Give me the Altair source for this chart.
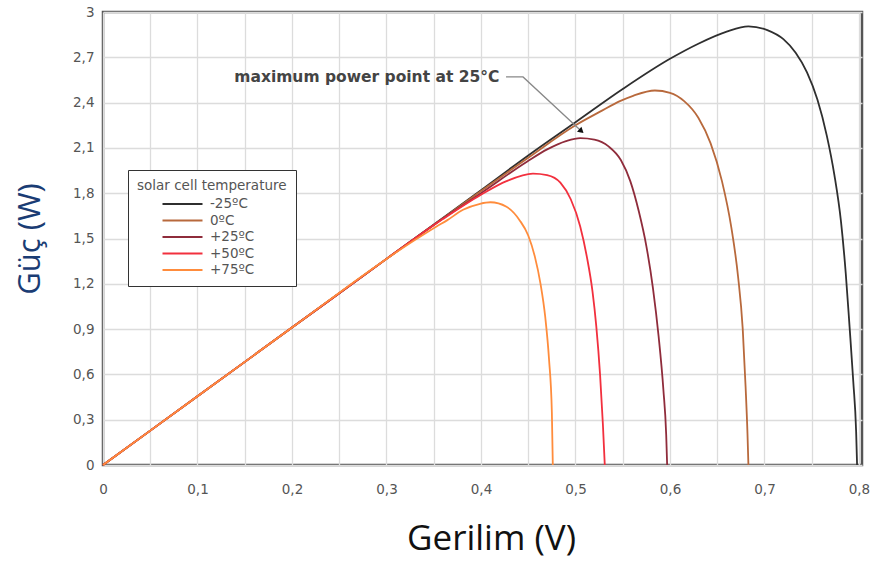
import altair as alt
import pandas as pd

# ---- data ----
series = ["-25ºC", "0ºC", "+25ºC", "+50ºC", "+75ºC"]
colors = ["#2f2f2f", "#b8693c", "#8f2c3b", "#f2303e", "#ff8c3c"]

v_m25 = [0, 0.1, 0.2, 0.3, 0.4, 0.45, 0.5, 0.55, 0.6, 0.63, 0.66, 0.683, 0.703, 0.72, 0.733, 0.745, 0.756, 0.766, 0.774, 0.781, 0.786, 0.790, 0.794, 0.797, 0.798]
p_m25 = [0, 0.455, 0.91, 1.365, 1.82, 2.05, 2.27, 2.49, 2.69, 2.79, 2.87, 2.905, 2.88, 2.82, 2.73, 2.60, 2.42, 2.18, 1.92, 1.61, 1.27, 0.92, 0.55, 0.22, 0]

v_0 = [0, 0.1, 0.2, 0.3, 0.4, 0.45, 0.5, 0.526, 0.547, 0.561, 0.584, 0.6, 0.615, 0.63, 0.643, 0.655, 0.665, 0.672, 0.677, 0.680, 0.682, 0.683]
p_0 = [0, 0.455, 0.91, 1.365, 1.815, 2.035, 2.25, 2.34, 2.41, 2.445, 2.48, 2.465, 2.41, 2.30, 2.13, 1.88, 1.57, 1.25, 0.90, 0.52, 0.21, 0]

v_25 = [0, 0.1, 0.2, 0.3, 0.35, 0.4, 0.449, 0.47, 0.49, 0.505, 0.52, 0.535, 0.548, 0.558, 0.567, 0.575, 0.582, 0.588, 0.593, 0.596, 0.597]
p_25 = [0, 0.455, 0.91, 1.365, 1.59, 1.80, 2.01, 2.09, 2.145, 2.165, 2.155, 2.11, 2.02, 1.88, 1.68, 1.45, 1.17, 0.85, 0.50, 0.20, 0]

v_50 = [0, 0.1, 0.2, 0.3, 0.33, 0.36, 0.4, 0.427, 0.455, 0.47, 0.484, 0.495, 0.505, 0.512, 0.518, 0.522, 0.526, 0.529, 0.531]
p_50 = [0, 0.455, 0.91, 1.365, 1.50, 1.63, 1.79, 1.88, 1.93, 1.92, 1.87, 1.76, 1.58, 1.38, 1.15, 0.92, 0.60, 0.27, 0]

v_75 = [0, 0.1, 0.2, 0.3, 0.33, 0.353, 0.364, 0.381, 0.399, 0.41, 0.427, 0.441, 0.45, 0.457, 0.463, 0.468, 0.472, 0.475, 0.476]
p_75 = [0, 0.455, 0.91, 1.365, 1.49, 1.58, 1.62, 1.69, 1.73, 1.74, 1.71, 1.62, 1.52, 1.38, 1.20, 0.98, 0.70, 0.35, 0]

x_ticks = [0, 0.1, 0.2, 0.3, 0.4, 0.5, 0.6, 0.7, 0.8]
x_grid = [round(i * 0.05, 2) for i in range(17)]
y_ticks = [round(i * 0.3, 1) for i in range(11)]

annot_text = "maximum power point at 25°C"
annot_pos = (0.4195, 2.57)
leader_v = [0.4265, 0.4445, 0.5055]
leader_p = [2.57, 2.57, 2.215]

# ---- build tables ----
rows = []
for name, vs, ps in zip(series, [v_m25, v_0, v_25, v_50, v_75], [p_m25, p_0, p_25, p_50, p_75]):
    for i, (v, p) in enumerate(zip(vs, ps)):
        rows.append({"T": name, "V": v, "P": p, "i": i})
df = pd.DataFrame(rows)

xscale = alt.Scale(domain=[0, 0.8032], nice=False, zero=False)
yscale = alt.Scale(domain=[0, 3], nice=False)

lbl = "replace(format(datum.value, '~g'), '.', ',')"

lines = alt.Chart(df).mark_line(strokeWidth=1.8, interpolate="monotone").encode(
    x=alt.X("V:Q", scale=xscale,
            axis=alt.Axis(values=x_grid, title="Gerilim (V)",
                          labelExpr="abs(datum.value*10 - round(datum.value*10)) < 0.01 ? " + lbl + " : ''",
                          ticks=False, domain=False, gridColor="#dcdcdc", gridWidth=1.3,
                          labelFont="DejaVu Sans", labelFontSize=13.5, labelColor="#555555",
                          labelPadding=17, labelFlush=False,
                          titleFont="Open Sans", titleFontSize=35, titleFontWeight="normal",
                          titleColor="#111111", titlePadding=26, titleX=388)),
    y=alt.Y("P:Q", scale=yscale,
            axis=alt.Axis(values=y_ticks, title="Güç (W)", labelExpr=lbl,
                          ticks=False, domain=False, gridColor="#dcdcdc", gridWidth=1.3,
                          labelFont="DejaVu Sans", labelFontSize=13.5, labelColor="#555555",
                          labelPadding=9,
                          titleFont="Open Sans", titleFontSize=31, titleFontWeight="normal",
                          titleColor="#1a3c74", titlePadding=26)),
    color=alt.Color("T:N", scale=alt.Scale(domain=series, range=colors), sort=series,
                    legend=alt.Legend(title="solar cell temperature", orient="none",
                                      legendX=25, legendY=158,
                                      symbolType="M-2.5,0H2.5", symbolSize=256, symbolStrokeWidth=2.2,
                                      symbolOffset=36,
                                      labelFont="DejaVu Sans", labelFontSize=13.5, labelColor="#555555",
                                      titleFont="DejaVu Sans", titleFontSize=13.5, titleFontWeight="normal",
                                      titleColor="#555555", titlePadding=2,
                                      strokeColor="#333333", fillColor="white", padding=9,
                                      rowPadding=0.5, labelOffset=18)),
    order="i:Q",
)

adf = pd.DataFrame({"V": [annot_pos[0]], "P": [annot_pos[1]], "t": [annot_text]})
text = alt.Chart(adf).mark_text(align="right", baseline="middle", font="DejaVu Sans",
                                fontSize=15.5, fontWeight="bold", color="#444444").encode(
    x=alt.X("V:Q", scale=xscale), y=alt.Y("P:Q", scale=yscale), text="t:N")

ldf = pd.DataFrame({"V": leader_v, "P": leader_p, "i": [0, 1, 2]})
leader = alt.Chart(ldf).mark_line(color="#888888", strokeWidth=1.3).encode(
    x=alt.X("V:Q", scale=xscale), y=alt.Y("P:Q", scale=yscale), order="i:Q")
head = alt.Chart(ldf.iloc[[2]]).mark_point(shape="triangle", filled=True, size=45,
                                           color="#111111", opacity=1, angle=131).encode(
    x=alt.X("V:Q", scale=xscale), y=alt.Y("P:Q", scale=yscale))

chart = alt.layer(lines, leader, head, text).properties(
    width=759, height=453,
    background="white",
    autosize=alt.AutoSizeParams(type="none"),
    padding={"left": 103, "top": 12, "right": 17, "bottom": 97},
).configure_view(stroke="#555555", strokeWidth=2.5)

chart.save("out.html", embed_options={"renderer": "svg", "actions": False})
